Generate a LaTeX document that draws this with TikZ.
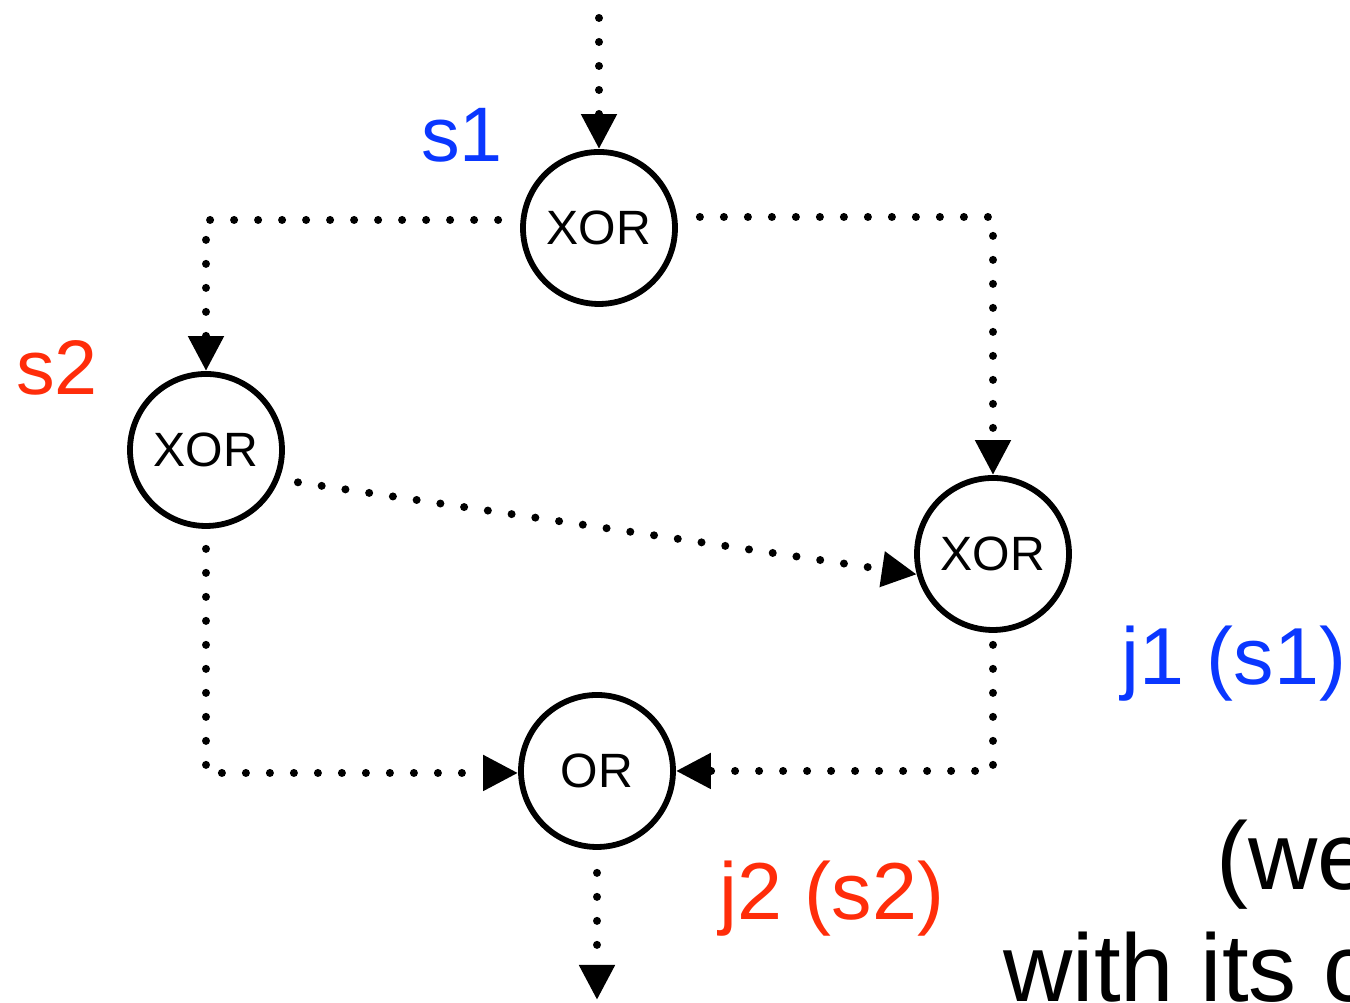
\documentclass[tikz,border=0pt]{standalone}
\usepackage{fontspec}
\setmainfont{Liberation Sans}
\usetikzlibrary{arrows.meta}

\definecolor{splitblue}{RGB}{10,55,255}
\definecolor{splitred}{RGB}{255,45,10}

\begin{document}
\begin{tikzpicture}[
    >={Triangle[length=0.35cm,width=0.34cm]},
    gate/.style={
        circle,
        draw=black,
        line width=0.058cm,
        minimum size=1.52cm,
        inner sep=0pt,
        font=\fontsize{13.7pt}{16pt}\selectfont
    },
    flow/.style={
        ->,
        line width=0.08cm,
        line cap=round,
        dash pattern=on 0pt off 0.24cm
    },
    tag/.style={
        anchor=base,
        inner sep=0pt,
        font=\fontsize{22pt}{26pt}\selectfont
    },
    note/.style={
        anchor=base west,
        inner sep=0pt,
        font=\fontsize{27.3pt}{32pt}\selectfont
    }
]

% ============================================================
% Rahmen
% ============================================================

\clip (0,0) rectangle (13.5,10.03);

% ============================================================
% Gatter
% ============================================================

\node[gate] (s1) at (5.99,7.75) {XOR};
\node[gate] (s2) at (2.06,5.53) {XOR};
\node[gate] (j1) at (9.93,4.49) {XOR};
\node[gate] (or) at (5.97,2.32) {OR};

% Ein- und Ausgang
\coordinate (in)  at (5.99,9.85);
\coordinate (out) at (5.97,0.03);

% ============================================================
% Kanten
% ============================================================

\draw[flow] (in) -- (s1);

\draw[flow, shorten <=0.22cm]
    ([yshift=0.08cm]s1.west) -| (s2);

\draw[flow, shorten <=0.22cm]
    ([yshift=0.11cm]s1.east) -| (j1);

\draw[flow, shorten <=0.19cm]
    (s2.-22) -- (j1.195);

\draw[flow, shorten <=0.2cm]
    (s2.south) |- ([yshift=-0.02cm]or.west);

\draw[flow, shorten <=0.12cm]
    (j1.south) |- (or.east);

\draw[flow, shorten <=0.23cm]
    (or.south) -- (out);

% ============================================================
% Beschriftungen
% ============================================================

\node[tag, text=splitblue] (ls1) at (4.62,8.41) {s1};
\node[tag, text=splitred]  (ls2) at (0.57,6.08) {s2};

\node[tag, text=splitblue, font=\fontsize{23pt}{27pt}\selectfont]
    (lj1) at (12.34,3.18) {j1 (s1)};
\node[tag, text=splitred, font=\fontsize{23pt}{27pt}\selectfont]
    (lj2) at (8.32,0.83) {j2 (s2)};

% Text am Rand (abgeschnitten)
\node[note] (we)   at (12.16,1.13) {(we};
\node[note] (with) at (10.03,0.01) {with its c};

\end{tikzpicture}
\end{document}
